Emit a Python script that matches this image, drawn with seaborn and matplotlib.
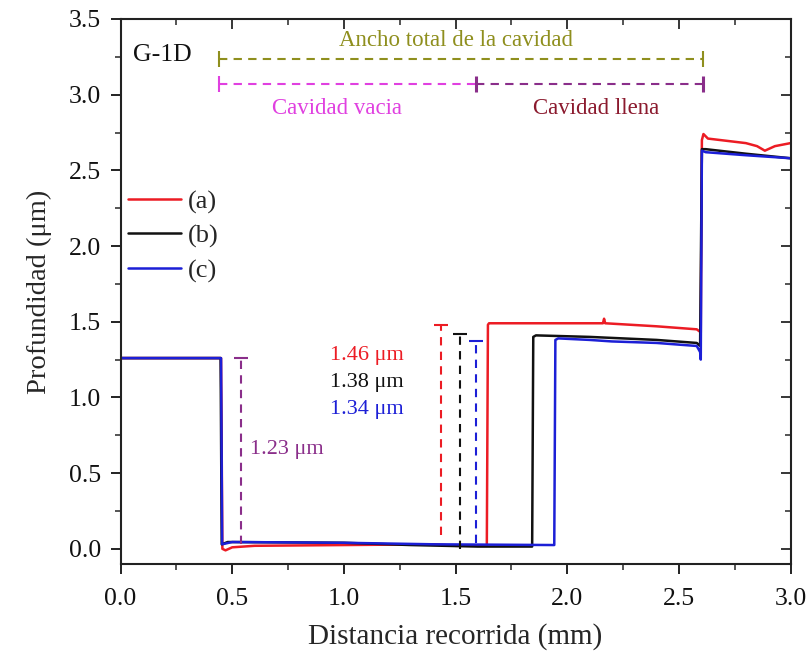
import numpy as np
import pandas as pd
import matplotlib
matplotlib.use("Agg")
import matplotlib.pyplot as plt
from matplotlib.ticker import MultipleLocator, FormatStrFormatter
import seaborn as sns

# Surface profiles of the cavity (distance in mm, depth in micrometres)
x_a = [0.0, 0.450, 0.456, 0.47, 0.50, 0.60, 1.00, 1.40, 1.50, 1.640, 1.645, 1.65, 2.00,
       2.16, 2.165, 2.17, 2.40, 2.58, 2.598, 2.603, 2.610, 2.63, 2.80, 2.85, 2.885, 2.93, 3.0]
y_a = [1.26, 1.26, 0.0, -0.01, 0.01, 0.02, 0.025, 0.03, 0.02, 0.02, 1.48, 1.49, 1.49,
       1.49, 1.52, 1.49, 1.47, 1.45, 1.43, 2.70, 2.74, 2.71, 2.68, 2.66, 2.63, 2.66, 2.68]

x_b = [0.0, 0.448, 0.453, 0.48, 1.00, 1.30, 1.60, 1.843, 1.848, 1.86, 2.10, 2.40, 2.58,
       2.595, 2.603, 2.62, 2.80, 3.0]
y_b = [1.26, 1.26, 0.03, 0.045, 0.04, 0.025, 0.015, 0.015, 1.40, 1.41, 1.40, 1.38, 1.36,
       1.34, 2.64, 2.64, 2.61, 2.58]

x_c = [0.0, 0.450, 0.455, 0.50, 1.00, 1.40, 1.942, 1.947, 1.96, 2.10, 2.20, 2.40, 2.58,
       2.595, 2.598, 2.603, 2.62, 2.80, 3.0]
y_c = [1.26, 1.26, 0.03, 0.045, 0.04, 0.03, 0.025, 1.38, 1.39, 1.38, 1.37, 1.36, 1.34,
       1.30, 1.25, 2.63, 2.62, 2.60, 2.58]

series_labels = ["(a)", "(b)", "(c)"]
series_colors = ["#ec1c24", "#111111", "#1c1fd6"]

# Step heights marked on the plot
step_labels = ["1.46 \u03bcm", "1.38 \u03bcm", "1.34 \u03bcm"]
step_x = [1.437, 1.52, 1.59]
step_bottom = [0.09, 0.0, 0.04]
step_top = [1.48, 1.42, 1.37]
step_text_y = [1.28, 1.10, 0.92]
entry_depth_label = "1.23 \u03bcm"
entry_x = 0.54
entry_bottom = 0.03
entry_top = 1.26

# Cavity width markers
cavity_left, cavity_mid, cavity_right = 0.44, 1.59, 2.61

df = pd.concat([
    pd.DataFrame({"x": x_a, "y": y_a, "serie": "(a)"}),
    pd.DataFrame({"x": x_b, "y": y_b, "serie": "(b)"}),
    pd.DataFrame({"x": x_c, "y": y_c, "serie": "(c)"}),
], ignore_index=True)

sns.set_theme(style="ticks")
plt.rcParams["font.family"] = ["Liberation Serif", "DejaVu Serif"]

fig = plt.figure(figsize=(8.09, 6.59), dpi=100)
ax = fig.add_axes([0.149, 0.1442, 0.8282, 0.827])

sns.lineplot(data=df, x="x", y="y", hue="serie", palette=dict(zip(series_labels, series_colors)),
             sort=False, estimator=None, linewidth=1.8, ax=ax)

ax.set_xlim(0, 3.0)
ax.set_ylim(-0.1, 3.5)
ax.xaxis.set_major_locator(MultipleLocator(0.5))
ax.xaxis.set_minor_locator(MultipleLocator(0.25))
ax.yaxis.set_major_locator(MultipleLocator(0.5))
ax.yaxis.set_minor_locator(MultipleLocator(0.25))
ax.xaxis.set_major_formatter(FormatStrFormatter("%.1f"))
ax.yaxis.set_major_formatter(FormatStrFormatter("%.1f"))
ax.tick_params(which="major", direction="out", length=7, width=1.3, labelsize=18.5,
               colors="#111111")
ax.tick_params(axis="x", which="major", pad=10)
ax.tick_params(axis="y", which="major", pad=7)
ax.tick_params(which="minor", direction="out", length=4, width=1.1)
for s in ax.spines.values():
    s.set_linewidth(1.5)
    s.set_color("#222222")
    s.set_visible(True)

# Inward ticks on the top and right spines
secx = ax.secondary_xaxis("top")
secx.xaxis.set_major_locator(MultipleLocator(0.5))
secx.xaxis.set_minor_locator(MultipleLocator(0.25))
secx.tick_params(which="major", direction="in", length=7, width=1.3, labeltop=False)
secx.tick_params(which="minor", direction="in", length=4, width=1.1)
secy = ax.secondary_yaxis("right")
secy.yaxis.set_major_locator(MultipleLocator(0.5))
secy.yaxis.set_minor_locator(MultipleLocator(0.25))
secy.tick_params(which="major", direction="in", length=7, width=1.3, labelright=False)
secy.tick_params(which="minor", direction="in", length=4, width=1.1)

ax.set_xlabel("Distancia recorrida (mm)", fontsize=21, labelpad=10)
ax.set_ylabel("Profundidad (\u03bcm)", fontsize=20.5, labelpad=12)

ax.legend(loc="upper left", bbox_to_anchor=(-0.004, 0.706), frameon=False, fontsize=19,
          handlelength=2.0, handletextpad=0.25, labelspacing=0.4, borderaxespad=0.0)

ax.text(0.055, 3.26, "G-1D", fontsize=18.5, color="#111111", ha="left", va="center")

# Total cavity width
olive = "#8f8f1e"
ax.plot([cavity_left, cavity_right], [3.236, 3.236], ls=(0, (4, 3)), color=olive, lw=1.5)
ax.plot([cavity_left, cavity_right], [3.236, 3.236], ls="none", marker="|", ms=11, mew=1.5, color=olive)
ax.text(1.50, 3.36, "Ancho total de la cavidad", color=olive, fontsize=16.5, ha="center", va="center")

# Empty and filled portions
magenta = "#e040e0"
purple = "#8a2e8a"
ax.plot([cavity_left, cavity_mid], [3.07, 3.07], ls=(0, (4, 3)), color=magenta, lw=1.5)
ax.plot([cavity_mid, cavity_right], [3.07, 3.07], ls=(0, (4, 3)), color=purple, lw=1.5)
ax.plot([cavity_left], [3.07], ls="none", marker="|", ms=11, mew=1.5, color=magenta)
ax.plot([cavity_mid, cavity_right], [3.07, 3.07], ls="none", marker="|", ms=11, mew=2.2, color=purple)
ax.text(0.97, 2.91, "Cavidad vacia", color=magenta, fontsize=16.5, ha="center", va="center")
ax.text(2.13, 2.91, "Cavidad llena", color="#8b1a2e", fontsize=16.5, ha="center", va="center")

# Depth at the cavity entrance
ax.plot([entry_x, entry_x], [entry_bottom, entry_top], ls=(0, (4, 3)), color=purple, lw=1.5)
ax.plot([entry_x], [entry_top], ls="none", marker="_", ms=10, mew=1.5, color=purple)
ax.text(0.58, 0.655, entry_depth_label, color=purple, fontsize=16, ha="left", va="center")

# Step heights of each profile
for lab, xv, yb, yt, col, ty in zip(step_labels, step_x, step_bottom, step_top, series_colors, step_text_y):
    ax.plot([xv, xv], [yb, yt], ls=(0, (4, 3)), color=col, lw=1.5)
    ax.plot([xv], [yt], ls="none", marker="_", ms=10, mew=1.5, color=col)
    ax.text(0.937, ty, lab, color=col, fontsize=16, ha="left", va="center")

fig.savefig("out.png", dpi=100)
